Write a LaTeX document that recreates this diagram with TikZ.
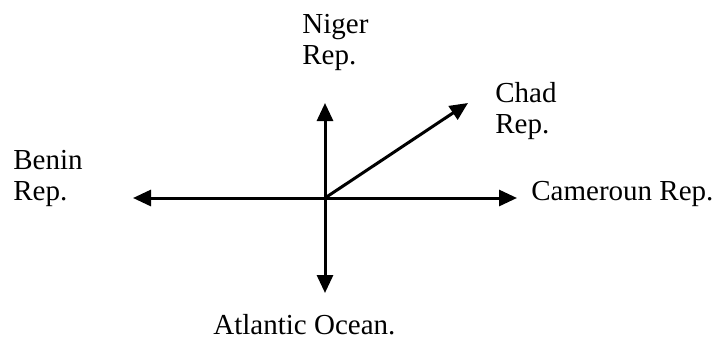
\documentclass[tikz,border=0pt]{standalone}
\usepackage{fontspec}
\setmainfont{Liberation Serif}
\usetikzlibrary{arrows.meta}

\begin{document}
\begin{tikzpicture}[x=0.5pt,y=-0.5pt,line join=miter,
  dir/.style={-{Triangle[length=9pt,width=8pt]},line width=1.5pt},
  place/.style={anchor=base west,inner sep=0pt,align=left,
    font=\fontsize{14.5}{15.5}\selectfont}]

\useasboundingbox (0,0) rectangle (714,338);

% -----------------------
% Centre and arrow ends
% -----------------------
\coordinate (O)     at (325,198);
\coordinate (north) at (325,103);
\coordinate (south) at (325,293);
\coordinate (west)  at (133,198);
\coordinate (east)  at (517,198);
\coordinate (ne)    at (468,103);

\draw[dir] (O) -- (north);
\draw[dir] (O) -- (south);
\draw[dir] (O) -- (west);
\draw[dir] (O) -- (east);
\draw[dir] (O) -- (ne);

% -----------------------
% Labels (base = last line)
% -----------------------
\node[place] (niger)    at (302,64)  {Niger\\Rep.};
\node[place] (chad)     at (495,133) {Chad\\Rep.};
\node[place] (benin)    at (13,200)  {Benin\\Rep.};
\node[place] (cameroun) at (531,200) {Cameroun Rep.};
\node[place] (ocean)    at (213,334) {Atlantic Ocean.};

\end{tikzpicture}
\end{document}
